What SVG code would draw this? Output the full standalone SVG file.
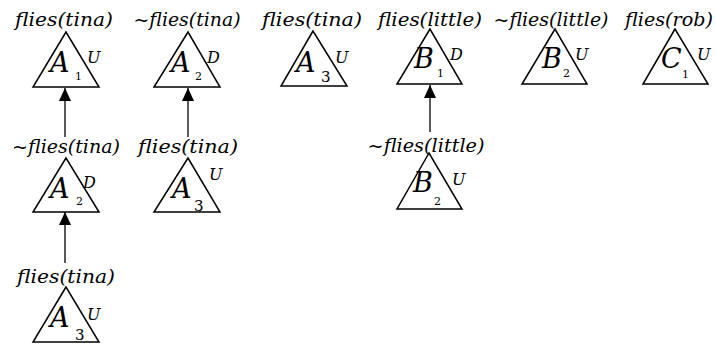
<svg xmlns="http://www.w3.org/2000/svg" width="716" height="347" viewBox="0 0 716 347">
<style>
.lbl{font-family:'DejaVu Serif',serif;font-style:italic;font-size:18px;fill:#000;text-anchor:middle}
.tri{fill:#fff;stroke:#000;stroke-width:1.5;stroke-linejoin:miter}
.big{font-family:'DejaVu Serif',serif;font-style:italic;font-size:27px;fill:#000}
.sub{font-family:'DejaVu Serif',serif;font-size:11px;fill:#000}
.sub3{font-family:'DejaVu Serif',serif;font-size:15px;fill:#000}
.tag{font-family:'DejaVu Serif',serif;font-style:italic;font-size:16px;fill:#000}
.conn{stroke:#000;stroke-width:1.3;fill:none}
</style>
<defs>
<marker id="ah" markerUnits="userSpaceOnUse" markerWidth="14" markerHeight="14" viewBox="0 0 14 14" refX="13" refY="7" orient="auto">
<path d="M0,1 L13,7 L0,13 Z" fill="#000"/>
</marker>
</defs>
<g id="connectors">
<line class="conn" x1="65" y1="137" x2="65" y2="88" marker-end="url(#ah)"/>
<line class="conn" x1="188" y1="137" x2="188" y2="88" marker-end="url(#ah)"/>
<line class="conn" x1="65" y1="263" x2="65" y2="212" marker-end="url(#ah)"/>
<line class="conn" x1="430" y1="132" x2="430" y2="85" marker-end="url(#ah)"/>
</g>
<g id="n1">
<text class="lbl" x="64" y="26" textLength="98" lengthAdjust="spacingAndGlyphs">flies(tina)</text>
<polygon class="tri" points="66,32 33,87 99,87"/>
<text class="big" x="50" y="72">A</text>
<text class="sub" x="75" y="80">1</text>
<text class="tag" x="87" y="63">U</text>
</g>
<g id="n2">
<text class="lbl" x="187" y="26" textLength="107" lengthAdjust="spacingAndGlyphs">~flies(tina)</text>
<polygon class="tri" points="188,32 154,87 220,87"/>
<text class="big" x="171" y="72">A</text>
<text class="sub" x="195" y="80">2</text>
<text class="tag" x="207" y="63">D</text>
</g>
<g id="n3">
<text class="lbl" x="312" y="26" textLength="100" lengthAdjust="spacingAndGlyphs">flies(tina)</text>
<polygon class="tri" points="313,31 281,86 347,86"/>
<text class="big" x="296" y="72">A</text>
<text class="sub3" x="321" y="82">3</text>
<text class="tag" x="335" y="63">U</text>
</g>
<g id="n4">
<text class="lbl" x="430" y="26" textLength="104" lengthAdjust="spacingAndGlyphs">flies(little)</text>
<polygon class="tri" points="430,29 397,84 462,84"/>
<text class="big" x="414" y="68">B</text>
<text class="sub" x="437" y="77">1</text>
<text class="tag" x="450" y="60">D</text>
</g>
<g id="n5">
<text class="lbl" x="551" y="26" textLength="115" lengthAdjust="spacingAndGlyphs">~flies(little)</text>
<polygon class="tri" points="555,29 522,84 587,84"/>
<text class="big" x="542" y="68">B</text>
<text class="sub" x="563" y="77">2</text>
<text class="tag" x="575" y="60">U</text>
</g>
<g id="n6">
<text class="lbl" x="669" y="26" textLength="88" lengthAdjust="spacingAndGlyphs">flies(rob)</text>
<polygon class="tri" points="675,29 643,84 708,84"/>
<text class="big" x="661" y="68">C</text>
<text class="sub" x="682" y="78">1</text>
<text class="tag" x="697" y="60">U</text>
</g>
<g id="n7">
<text class="lbl" x="66" y="153" textLength="108" lengthAdjust="spacingAndGlyphs">~flies(tina)</text>
<polygon class="tri" points="66,158 33,212 99,212"/>
<text class="big" x="50" y="198">A</text>
<text class="sub" x="76" y="205">2</text>
<text class="tag" x="83" y="188">D</text>
</g>
<g id="n8">
<text class="lbl" x="188" y="153" textLength="100" lengthAdjust="spacingAndGlyphs">flies(tina)</text>
<polygon class="tri" points="188,158 154,212 220,212"/>
<text class="big" x="172" y="198">A</text>
<text class="sub3" x="194" y="211">3</text>
<text class="tag" x="209" y="180">U</text>
</g>
<g id="n9">
<text class="lbl" x="66" y="283" textLength="98" lengthAdjust="spacingAndGlyphs">flies(tina)</text>
<polygon class="tri" points="66,287 33,342 99,342"/>
<text class="big" x="50" y="327">A</text>
<text class="sub3" x="75" y="340">3</text>
<text class="tag" x="87" y="320">U</text>
</g>
<g id="n10">
<text class="lbl" x="426" y="152" textLength="117" lengthAdjust="spacingAndGlyphs">~flies(little)</text>
<polygon class="tri" points="429,153 397,209 462,209"/>
<text class="big" x="413" y="192">B</text>
<text class="sub" x="434" y="205">2</text>
<text class="tag" x="452" y="185">U</text>
</g>
</svg>
